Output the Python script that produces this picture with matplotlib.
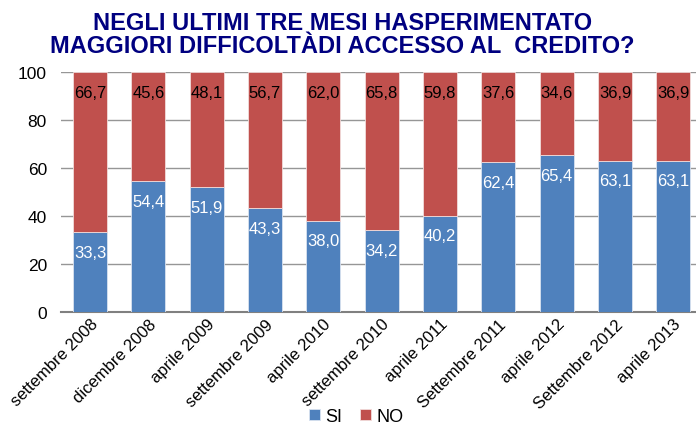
import matplotlib.pyplot as plt
import numpy as np

# Dati del grafico
periodi = ['settembre 2008', 'dicembre 2008', 'aprile 2009', 'settembre 2009',
           'aprile 2010', 'settembre 2010', 'aprile 2011', 'Settembre 2011',
           'aprile 2012', 'Settembre 2012', 'aprile 2013']
si = [33.3, 54.4, 51.9, 43.3, 38.0, 34.2, 40.2, 62.4, 65.4, 63.1, 63.1]
no = [66.7, 45.6, 48.1, 56.7, 62.0, 65.8, 59.8, 37.6, 34.6, 36.9, 36.9]

plt.rcParams['font.family'] = ['Liberation Sans', 'DejaVu Sans']

fig = plt.figure(figsize=(6.96, 4.27), dpi=100)
ax = fig.add_axes([0.0874, 0.267, 0.922, 0.562])

x = np.arange(len(periodi))
larghezza = 0.58
barre_si = ax.bar(x, si, larghezza, color='#4F81BD', edgecolor='#D9E2F0', linewidth=0.6,
                  label='SI', zorder=3)
barre_no = ax.bar(x, no, larghezza, bottom=si, color='#C0504D', edgecolor='#F2DCDB',
                  linewidth=0.6, label='NO', zorder=3)

# Etichette dei valori (in alto dentro ogni segmento)
for i in range(len(periodi)):
    ax.annotate(f'{si[i]:.1f}'.replace('.', ','), (x[i], si[i]), xytext=(0, -14.5),
                textcoords='offset points', ha='center', va='center',
                color='white', fontsize=12, zorder=4)
    ax.annotate(f'{no[i]:.1f}'.replace('.', ','), (x[i], si[i] + no[i]), xytext=(0, -14.5),
                textcoords='offset points', ha='center', va='center',
                color='black', fontsize=12, zorder=4)

ax.set_ylim(0, 100)
ax.set_xlim(-0.5, len(periodi) - 0.5)
ax.set_yticks(range(0, 101, 20))
ax.tick_params(axis='y', length=0, labelsize=12.5, pad=10)
ax.tick_params(axis='x', length=0, labelsize=12, pad=3)
ax.set_xticks(x)
ax.set_xticklabels(periodi, rotation=45, ha='right', rotation_mode='anchor')
ax.grid(axis='y', color='#969696', linewidth=1.0, zorder=0)
for lato in ['left', 'right', 'top']:
    ax.spines[lato].set_visible(False)
ax.spines['bottom'].set_color('#808080')
ax.spines['bottom'].set_linewidth(1.5)

fig.text(0.492, 0.972, 'NEGLI ULTIMI TRE MESI HASPERIMENTATO\nMAGGIORI DIFFICOLTÀDI ACCESSO AL  CREDITO?',
         ha='center', va='top', fontsize=17, fontweight='bold', color='#000080',
         family=['Liberation Sans Narrow', 'Liberation Sans'], linespacing=1.0)

fig.legend(handles=[barre_si, barre_no], loc='lower center', bbox_to_anchor=(0.512, -0.036),
           ncol=2, frameon=False, fontsize=13, handlelength=0.6, handleheight=0.6,
           handletextpad=0.3, columnspacing=1.0)

fig.savefig('out.png', dpi=100)
